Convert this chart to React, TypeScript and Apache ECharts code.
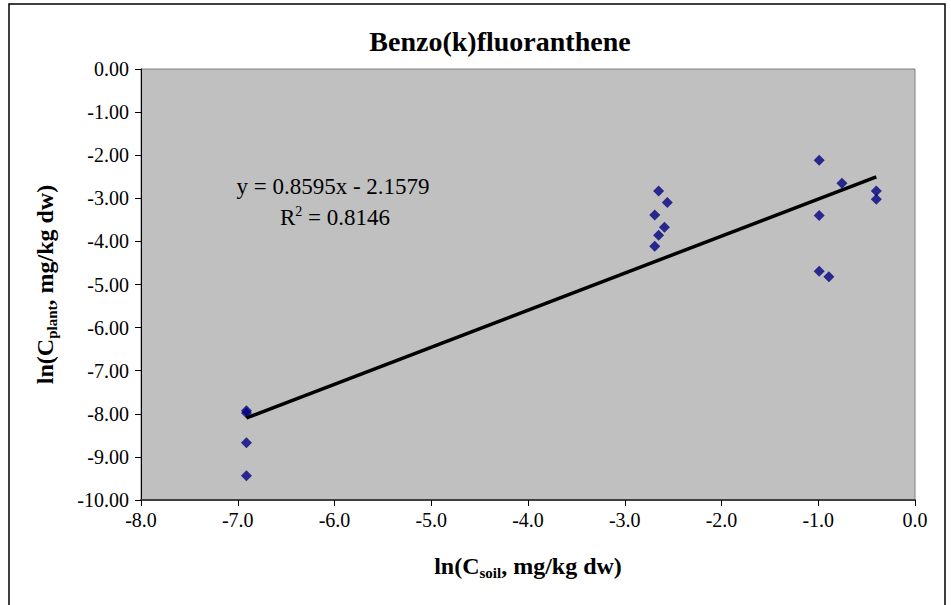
import React, { useEffect, useRef } from "react";
import * as echarts from "echarts";

// ln of soil concentration (x) and plant concentration (y), mg/kg dw
const soilLn = [
  -6.91, -6.91, -6.91, -6.91,
  -2.65, -2.56, -2.69, -2.59, -2.65, -2.69,
  -0.99, -0.755, -0.4, -0.4, -0.99, -0.99, -0.89,
];
const plantLn = [
  -7.93, -7.98, -8.67, -9.44,
  -2.83, -3.1, -3.39, -3.67, -3.86, -4.11,
  -2.12, -2.65, -2.83, -3.02, -3.4, -4.69, -4.82,
];

// Linear regression reported on the chart
const slope = 0.8595;
const intercept = -2.1579;
const rSquared = 0.8146;

const xTicks = { min: -8, max: 0, step: 1 };
const yTicks = { min: -10, max: 0, step: 1 };

const SERIF = "Liberation Serif";

export default function App() {
  const ref = useRef<HTMLDivElement>(null);

  useEffect(() => {
    if (!ref.current) return;
    const chart = echarts.init(ref.current, null, { renderer: "svg" });

    const points = soilLn.map((x, i) => [x, plantLn[i]]);
    const xLo = Math.min(...soilLn);
    const xHi = Math.max(...soilLn);
    const fitLine = [
      [xLo, slope * xLo + intercept],
      [xHi, slope * xHi + intercept],
    ];

    const fmtSigned = (v: number) => (v < 0 ? " - " : " + ") + Math.abs(v).toFixed(4);

    const nameRich = {
      m: { fontFamily: SERIF, fontWeight: "bold", fontSize: 24, color: "#000", lineHeight: 28, verticalAlign: "middle" },
      s: { fontFamily: SERIF, fontWeight: "bold", fontSize: 15, color: "#000", lineHeight: 15, verticalAlign: "bottom" },
    };

    chart.setOption({
      animation: false,
      backgroundColor: "#ffffff",
      textStyle: { fontFamily: SERIF },
      title: {
        text: "Benzo(k)fluoranthene",
        left: 495,
        top: 22,
        textAlign: "center",
        textStyle: {
          fontFamily: SERIF,
          fontWeight: "bold",
          fontSize: 28,
          color: "#000",
        },
      },
      grid: {
        left: 141,
        right: 36,
        top: 69,
        bottom: 105,
        show: true,
        backgroundColor: "#C0C0C0",
        borderColor: "#808080",
        borderWidth: 1,
      },
      xAxis: {
        type: "value",
        min: xTicks.min,
        max: xTicks.max,
        interval: xTicks.step,
        splitLine: { show: false },
        axisLine: { show: true, onZero: false, lineStyle: { color: "#404040", width: 2 } },
        axisTick: { show: true, length: 6, lineStyle: { color: "#000", width: 1 } },
        axisLabel: {
          margin: 10,
          color: "#000",
          fontFamily: SERIF,
          fontSize: 20,
          formatter: (v: number) => v.toFixed(1),
        },
        name: "{m|ln(C}{s|soil}{m|, mg/kg dw)}",
        nameLocation: "middle",
        nameGap: 52,
        nameTextStyle: { fontFamily: SERIF, rich: nameRich },
      },
      yAxis: {
        type: "value",
        min: yTicks.min,
        max: yTicks.max,
        interval: yTicks.step,
        splitLine: { show: false },
        axisLine: { show: true, onZero: false, lineStyle: { color: "#000", width: 1 } },
        axisTick: { show: true, length: 6, lineStyle: { color: "#000", width: 1 } },
        axisLabel: {
          margin: 12,
          color: "#000",
          fontFamily: SERIF,
          fontSize: 20,
          formatter: (v: number) => v.toFixed(2),
        },
        name: "{m|ln(C}{s|plant}{m|, mg/kg dw)}",
        nameLocation: "middle",
        nameRotate: 90,
        nameGap: 82,
        nameTextStyle: { fontFamily: SERIF, rich: nameRich },
      },
      graphic: [
        {
          type: "rect",
          shape: { x: 9, y: 4, width: 936, height: 640 },
          style: { fill: "none", stroke: "#000", lineWidth: 1.5 },
          silent: true,
          z: 0,
        },
        {
          type: "text",
          x: 333,
          y: 186,
          style: {
            text: `y = ${slope}x${fmtSigned(intercept)}`,
            fontFamily: SERIF,
            fontSize: 23,
            fill: "#000",
            align: "center",
            verticalAlign: "middle",
          },
          z: 10,
        },
        {
          type: "text",
          x: 335,
          y: 217,
          style: {
            text: `{m|R}{p|2}{m| = ${rSquared}}`,
            align: "center",
            verticalAlign: "middle",
            rich: {
              m: { fontFamily: SERIF, fontSize: 23, fill: "#000", lineHeight: 26, verticalAlign: "middle" },
              p: { fontFamily: SERIF, fontSize: 14, fill: "#000", lineHeight: 14, verticalAlign: "top" },
            },
          },
          z: 10,
        },
      ],
      series: [
        {
          type: "line",
          data: fitLine,
          showSymbol: false,
          symbol: "none",
          lineStyle: { color: "#000", width: 3.5 },
          z: 3,
        },
        {
          type: "scatter",
          data: points,
          symbol: "diamond",
          symbolSize: 11,
          itemStyle: { color: "#000080" },
          z: 2,
        },
      ],
    });

    return () => chart.dispose();
  }, []);

  return (
    <div
      ref={ref}
      style={{ position: "fixed", left: 0, top: 0, width: 951, height: 605 }}
    />
  );
}
